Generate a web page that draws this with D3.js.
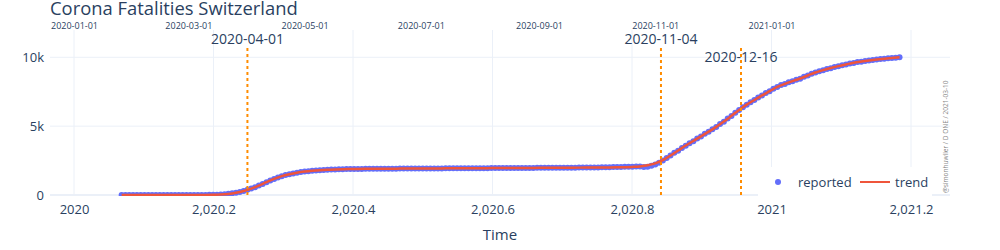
<!doctype html>
<html lang="en">
<head>
<meta charset="utf-8">
<title>Corona Fatalities Switzerland</title>
<script src="https://cdn.jsdelivr.net/npm/d3@7"></script>
<style>
  body { margin: 0; background: #fff; }
  text { font-family: "Open Sans", Verdana, Arial, sans-serif; fill: #2a3f5f; }
</style>
</head>
<body>
<script>
// cumulative reported deaths, one value every 2 days from 2020-01-26
var reportedStart = "2020-01-26";
var reportedStep = 2;
var reported = [
  0, 0, 0, 0, 0, 0, 0, 0, 0, 0,
  0, 0, 0, 0, 0, 0, 0, 0, 0, 0,
  1, 3, 6, 10, 15, 24, 38, 56, 84, 120,
  165, 225, 295, 375, 465, 570, 685, 805, 930, 1050,
  1165, 1275, 1365, 1445, 1515, 1570, 1620, 1665, 1700, 1730,
  1760, 1785, 1805, 1822, 1838, 1850, 1860, 1868, 1875, 1880,
  1885, 1889, 1893, 1896, 1899, 1902, 1904, 1906, 1908, 1910,
  1912, 1914, 1915, 1917, 1918, 1920, 1921, 1923, 1924, 1926,
  1927, 1929, 1930, 1932, 1933, 1935, 1936, 1938, 1939, 1941,
  1942, 1944, 1945, 1947, 1948, 1950, 1951, 1953, 1954, 1956,
  1957, 1959, 1960, 1962, 1963, 1965, 1966, 1968, 1969, 1971,
  1972, 1974, 1975, 1977, 1978, 1980, 1981, 1983, 1985, 1987,
  1989, 1992, 1995, 1998, 2002, 2006, 2010, 2015, 2020, 2026,
  2032, 2039, 2046, 2053, 2060, 2068, 2076, 2030, 2060, 2130,
  2220, 2350, 2500, 2690, 2860, 3060, 3220, 3420, 3580, 3760,
  3910, 4100, 4250, 4440, 4590, 4780, 4940, 5150, 5320, 5550,
  5740, 5970, 6170, 6380, 6550, 6740, 6890, 7080, 7220, 7400,
  7530, 7710, 7840, 7980, 8060, 8180, 8260, 8370, 8450, 8580,
  8670, 8800, 8890, 8990, 9060, 9150, 9210, 9300, 9350, 9425,
  9475, 9545, 9595, 9650, 9685, 9735, 9765, 9810, 9835, 9875,
  9895, 9930, 9948, 9975, 9998
];

// fitted trend, one value every 4 days from 2020-01-26
var trendStart = "2020-01-26";
var trendStep = 4;
var trend = [
  0, 0, 0, 0, 0, 0, 0, 0, 0, 0,
  2, 6, 15, 35, 80, 165, 290, 460, 680, 930,
  1170, 1370, 1510, 1620, 1700, 1760, 1805, 1838, 1860, 1875,
  1885, 1893, 1899, 1904, 1908, 1912, 1915, 1918, 1921, 1924,
  1927, 1930, 1933, 1936, 1939, 1942, 1945, 1948, 1951, 1954,
  1957, 1960, 1963, 1966, 1969, 1972, 1975, 1978, 1981, 1984,
  1988, 1992, 1996, 2000, 2005, 2012, 2023, 2042, 2078, 2155,
  2300, 2530, 2870, 3230, 3590, 3930, 4260, 4600, 4950, 5330,
  5750, 6180, 6560, 6900, 7230, 7540, 7850, 8070, 8270, 8460,
  8680, 8900, 9070, 9220, 9360, 9480, 9600, 9690, 9770, 9840,
  9900, 9950, 10000
];

var events = ["2020-04-01", "2020-11-04", "2020-12-16"];
var xTicks = [2020, 2020.2, 2020.4, 2020.6, 2020.8, 2021, 2021.2];
var yTicks = [0, 5000, 10000];
var topTickStart = "2020-01-01", topTickEnd = "2021-01-02";

var W = 1000, H = 250;
var mLeft = 50, mRight = 950, mTop = 30, mBottom = 196;
var parse = d3.timeParse("%Y-%m-%d");

function decYear(d) {
  var yr = d.getFullYear();
  var a = new Date(yr, 0, 1), b = new Date(yr + 1, 0, 1);
  return yr + (d - a) / (b - a);
}
function series(start, step, vals) {
  var s = parse(start);
  return vals.map(function(v, i) {
    return { t: decYear(d3.timeDay.offset(s, i * step)), v: v };
  });
}

var repData = series(reportedStart, reportedStep, reported);
var trendData = series(trendStart, trendStep, trend);

var x = d3.scaleLinear().domain([2020, 2021]).range([74, 771.5]);
var y = d3.scaleLinear().domain([0, 10000]).range([195, 57.3]);
var xTime = d3.scaleTime()
  .domain([parse("2020-01-01"), parse("2021-01-01")])
  .range([x(2020), x(2021)]);

var svg = d3.select("body").append("svg")
  .attr("width", W).attr("height", H);

svg.append("defs").append("clipPath").attr("id", "plotclip")
  .append("rect").attr("x", mLeft).attr("y", mTop)
  .attr("width", mRight - mLeft).attr("height", mBottom - mTop);

// grid
var grid = svg.append("g");
grid.selectAll("line.vx").data(xTicks).enter().append("line")
  .attr("x1", function(d){ return x(d); }).attr("x2", function(d){ return x(d); })
  .attr("y1", mTop).attr("y2", mBottom)
  .attr("stroke", "#ebf0f8").attr("stroke-width", 1);
grid.selectAll("line.hy").data(yTicks.filter(function(d){ return d !== 0; })).enter().append("line")
  .attr("x1", mLeft).attr("x2", mRight)
  .attr("y1", function(d){ return y(d); }).attr("y2", function(d){ return y(d); })
  .attr("stroke", "#ebf0f8").attr("stroke-width", 1);
grid.append("line")
  .attr("x1", mLeft).attr("x2", mRight).attr("y1", y(0)).attr("y2", y(0))
  .attr("stroke", "#ebf0f8").attr("stroke-width", 2);

// traces
var plot = svg.append("g").attr("clip-path", "url(#plotclip)");
plot.selectAll("circle").data(repData).enter().append("circle")
  .attr("cx", function(d){ return x(d.t); })
  .attr("cy", function(d){ return y(d.v); })
  .attr("r", 3)
  .attr("fill", "#636efa");

var line = d3.line()
  .x(function(d){ return x(d.t); })
  .y(function(d){ return y(d.v); })
  .curve(d3.curveMonotoneX);
plot.append("path").datum(trendData)
  .attr("d", line)
  .attr("fill", "none")
  .attr("stroke", "#ef553b")
  .attr("stroke-width", 2.5);

// event markers
var labelY = [44, 44, 62];
events.forEach(function(e, i) {
  var ex = x(decYear(parse(e)));
  svg.append("line")
    .attr("x1", ex).attr("x2", ex).attr("y1", 48).attr("y2", mBottom)
    .attr("stroke", "#ff8c00").attr("stroke-width", 2)
    .attr("stroke-dasharray", "3,3");
  svg.append("text")
    .attr("x", ex).attr("y", labelY[i])
    .attr("text-anchor", "middle")
    .style("font-size", "14px")
    .text(e);
});

// axes
var fmtX = function(d) {
  return Number.isInteger(d) ? String(d) : d3.format(",.1f")(d);
};
var xAxis = svg.append("g").attr("transform", "translate(0," + mBottom + ")")
  .call(d3.axisBottom(x).tickValues(xTicks).tickFormat(fmtX).tickSize(0).tickPadding(9));
xAxis.select(".domain").remove();
xAxis.selectAll("text").style("font-size", "13px").attr("fill", "#2a3f5f");

var yAxis = svg.append("g").attr("transform", "translate(" + mLeft + ",0)")
  .call(d3.axisLeft(y).tickValues(yTicks).tickFormat(d3.format("~s")).tickSize(0).tickPadding(6));
yAxis.select(".domain").remove();
yAxis.selectAll("text").style("font-size", "13px").attr("fill", "#2a3f5f");

var topAxis = svg.append("g").attr("transform", "translate(0," + mTop + ")")
  .call(d3.axisTop(xTime)
    .tickValues(d3.timeMonth.every(2).range(parse(topTickStart), parse(topTickEnd)))
    .tickFormat(d3.timeFormat("%Y-%m-%d")).tickSize(0).tickPadding(1));
topAxis.select(".domain").remove();
topAxis.selectAll("text").style("font-size", "9px").attr("fill", "#2a3f5f");

// titles
svg.append("text").attr("x", 50).attr("y", 15)
  .style("font-size", "18.4px").text("Corona Fatalities Switzerland");
svg.append("text").attr("x", (mLeft + mRight) / 2).attr("y", 240)
  .attr("text-anchor", "middle").style("font-size", "15px").text("Time");

// legend
var lg = svg.append("g");
lg.append("rect").attr("x", 758).attr("y", 167).attr("width", 174).attr("height", 30)
  .attr("fill", "#fff");
lg.append("circle").attr("cx", 778).attr("cy", 182).attr("r", 3).attr("fill", "#636efa");
lg.append("text").attr("x", 798).attr("y", 182).attr("dy", "0.35em")
  .style("font-size", "13px").text("reported");
lg.append("line").attr("x1", 860).attr("x2", 890).attr("y1", 182).attr("y2", 182)
  .attr("stroke", "#ef553b").attr("stroke-width", 2);
lg.append("text").attr("x", 895).attr("y", 182).attr("dy", "0.35em")
  .style("font-size", "13px").text("trend");

// credit
svg.append("text")
  .attr("transform", "translate(948,193) rotate(-90)")
  .style("font-size", "6.5px").style("fill", "#888")
  .text("@simonhuwiler / D ONE / 2021-03-10");
</script>
</body>
</html>
